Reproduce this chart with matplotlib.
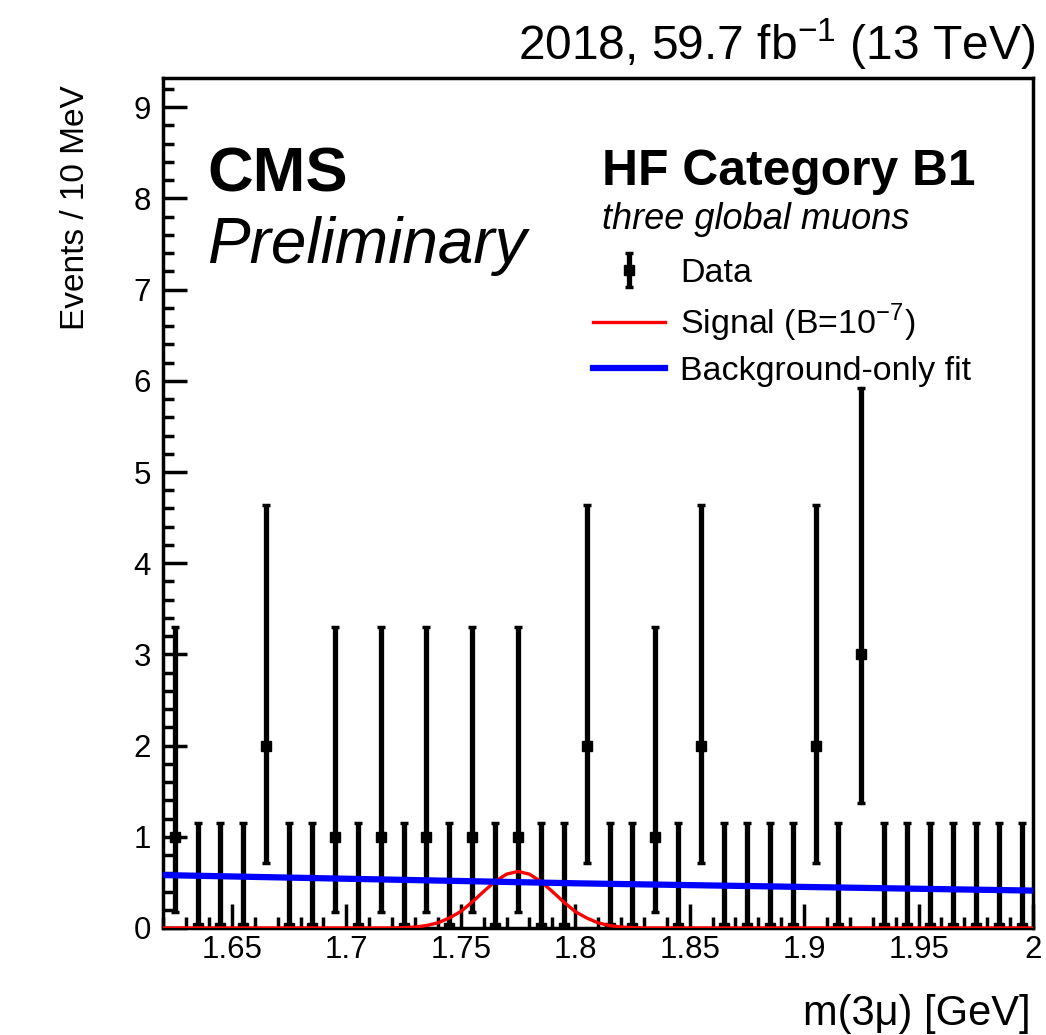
import numpy as np
import matplotlib
matplotlib.use("Agg")
import matplotlib.pyplot as plt
from matplotlib.ticker import MultipleLocator

plt.rcParams['font.family'] = ['Liberation Sans', 'DejaVu Sans']
plt.rcParams['mathtext.fontset'] = 'custom'
plt.rcParams['mathtext.rm'] = 'Liberation Sans'

# 10 MeV bins from 1.62 to 2.00 GeV
bin_centers = [1.625 + 0.01 * i for i in range(38)]
counts = [1, 0, 0, 0, 2, 0, 0, 1, 0, 1,
          0, 1, 0, 1, 0, 1, 0, 0, 2, 0,
          0, 1, 0, 2, 0, 0, 0, 0, 2, 0,
          3, 0, 0, 0, 0, 0, 0, 0]
# asymmetric Poisson intervals per observed count
err_low_by_n = {0: 0.0, 1: 0.827, 2: 1.292, 3: 1.633}
err_high_by_n = {0: 1.148, 1: 2.300, 2: 2.638, 3: 2.918}

# signal shape (B = 1e-7)
sig_mass = [1.62, 1.72, 1.725, 1.73, 1.735, 1.74, 1.745, 1.75, 1.755, 1.76, 1.765,
            1.77, 1.775, 1.78, 1.785, 1.79, 1.795, 1.80, 1.805, 1.81, 1.815,
            1.82, 1.825, 1.83, 2.00]
sig_value = [0.0, 0.0, 0.004, 0.01, 0.027, 0.056, 0.11, 0.18, 0.285, 0.40, 0.51,
             0.59, 0.62, 0.59, 0.51, 0.40, 0.285, 0.18, 0.11, 0.056, 0.027,
             0.01, 0.004, 0.0, 0.0]

# background-only fit
bkg_mass = [1.62, 1.70, 1.80, 1.90, 2.00]
bkg_value = [0.58, 0.54, 0.49, 0.45, 0.41]

yerr = [[err_low_by_n[n] for n in counts], [err_high_by_n[n] for n in counts]]

fig = plt.figure(figsize=(10.46, 10.35), dpi=100)
ax = fig.add_axes([0.156, 0.1034, 0.8316, 0.8212])

data = ax.errorbar(bin_centers, counts, yerr=yerr, fmt='s', color='black', ms=7,
                   elinewidth=3.8, capsize=3, capthick=2.5, zorder=3, label='Data')
sig, = ax.plot(sig_mass, sig_value, color='#ff0000', lw=2.4, zorder=4,
               label='Signal (B=10$^{-7}$)')
bkg, = ax.plot(bkg_mass, bkg_value, color='#0000ff', lw=4.5, zorder=5,
               label='Background-only fit')

ax.set_xlim(1.62, 2.0)
ax.set_ylim(0, 9.32)
ax.xaxis.set_major_locator(MultipleLocator(0.05))
ax.xaxis.set_minor_locator(MultipleLocator(0.01))
ax.yaxis.set_major_locator(MultipleLocator(1))
ax.yaxis.set_minor_locator(MultipleLocator(0.2))
ax.set_xticks([1.65, 1.7, 1.75, 1.8, 1.85, 1.9, 1.95, 2.0])
ax.set_xticklabels(['1.65', '1.7', '1.75', '1.8', '1.85', '1.9', '1.95', '2'])
ax.tick_params(which='both', direction='in', labelsize=22.5, width=2.5, color='black')
ax.tick_params(which='major', length=17)
ax.tick_params(which='minor', length=8)
ax.tick_params(axis='y', pad=9)
ax.tick_params(axis='x', pad=5)
for s in ax.spines.values():
    s.set_linewidth(2.5)

fig.text(0.072, 1 - 85 / 1035, 'Events / 10 MeV', rotation=90, ha='center', va='top',
         fontsize=24)
fig.text(0.985, 1 - 1025 / 1035, 'm(3\u03bc) [GeV]', ha='right', va='baseline',
         fontsize=30)
fig.text(0.99, 1 - 60 / 1035, '2018, 59.7 fb$^{-1}$ (13 TeV)', ha='right',
         va='baseline', fontsize=34.5)

ax.text(0.0506, 0.867, 'CMS', transform=ax.transAxes, fontsize=45.5,
        fontweight='bold', va='baseline')
ax.text(0.0506, 0.782, 'Preliminary', transform=ax.transAxes, fontsize=46,
        style='italic', va='baseline')
ax.text(0.5046, 0.874, 'HF Category B1', transform=ax.transAxes, fontsize=35.8,
        fontweight='bold', va='baseline')
ax.text(0.5046, 0.822, 'three global muons', transform=ax.transAxes, fontsize=26,
        style='italic', va='baseline')

ax.legend(handles=[data, sig, bkg], loc='upper left', bbox_to_anchor=(0.494, 0.788),
          frameon=False, fontsize=24.5, handlelength=2.12, handletextpad=0.44,
          borderpad=0, borderaxespad=0, labelspacing=0.36)

fig.savefig('out.png', dpi=100)
